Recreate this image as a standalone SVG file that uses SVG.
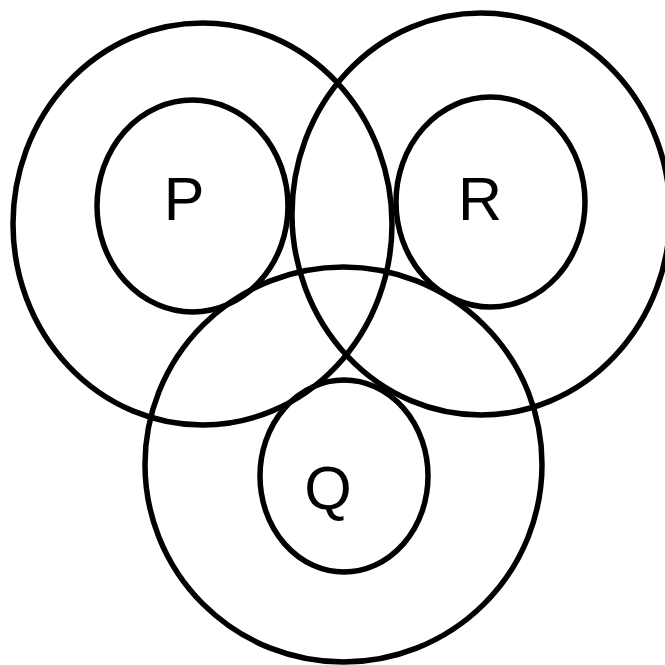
<svg xmlns="http://www.w3.org/2000/svg" width="665" height="665" viewBox="0 0 665 665">
<style>
.c{fill:none;stroke:#000;stroke-width:5.5}
.t{font-family:"Liberation Sans",Arial,sans-serif;font-size:61px;fill:#000;text-anchor:middle}
</style>
<rect width="665" height="665" fill="#fff"/>
<g id="outer-P"><ellipse class="c" cx="202.5" cy="224" rx="189.5" ry="201"/></g>
<g id="outer-R"><ellipse class="c" cx="481" cy="214" rx="189" ry="201"/></g>
<g id="outer-Q"><ellipse class="c" cx="343.5" cy="464.5" rx="198.5" ry="197.5"/></g>
<g id="P"><ellipse class="c" cx="192.5" cy="206" rx="95.5" ry="106"/><text class="t" x="184" y="220">P</text></g>
<g id="R"><ellipse class="c" cx="490.5" cy="202" rx="94.5" ry="105"/><text class="t" x="480" y="220">R</text></g>
<g id="Q"><ellipse class="c" cx="344" cy="476" rx="84" ry="96"/><text class="t" x="328" y="509">Q</text></g>
</svg>
